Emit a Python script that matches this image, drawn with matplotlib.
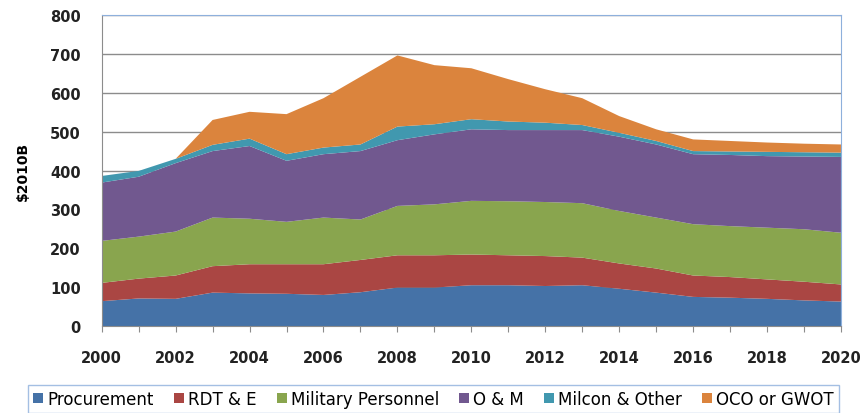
import numpy as np
import matplotlib
matplotlib.use("Agg")
import matplotlib.pyplot as plt

plt.rcParams['font.family'] = ['DejaVu Sans']

#------------------------------------ Data -------------------------------------
years = list(range(2000, 2021))
procurement = [64, 71, 70, 86, 84, 83, 80, 87, 99, 99, 105, 105, 103, 105, 96, 86, 75, 73, 70, 66, 63]
rdte = [47, 51, 60, 68, 75, 76, 79, 83, 83, 83, 79, 77, 77, 71, 65, 62, 55, 53, 50, 48, 44]
mil_personnel = [108, 108, 113, 125, 117, 109, 120, 104, 127, 131, 138, 139, 139, 140, 135, 131, 132, 131, 133, 135, 133]
o_and_m = [150, 154, 176, 171, 187, 157, 163, 176, 169, 180, 184, 183, 185, 188, 191, 188, 180, 183, 184, 187, 195]
milcon_other = [17, 15, 11, 16, 19, 17, 17, 17, 35, 26, 26, 22, 19, 13, 10, 9, 8, 9, 11, 11, 11]
oco_gwot = [0, 0, 0, 64, 69, 103, 127, 174, 183, 152, 131, 109, 86, 69, 43, 30, 30, 27, 24, 22, 21]

labels = ['Procurement', 'RDT & E', 'Military Personnel', 'O & M', 'Milcon & Other', 'OCO or GWOT']
colors = ['#4572A7', '#AA4643', '#89A54E', '#71588F', '#4198AF', '#DB843D']

#------------------------------------ Plot -------------------------------------
fig = plt.figure(figsize=(8.62, 4.14), dpi=100)
ax = fig.add_axes((0.118, 0.21, 0.8576, 0.7514))

ax.stackplot(years, procurement, rdte, mil_personnel, o_and_m, milcon_other, oco_gwot,
             colors=colors, labels=labels, linewidth=0)

ax.set_xlim(2000, 2020)
ax.set_ylim(0, 800)
ax.set_yticks(range(0, 801, 100))
ax.set_xticks(years)
ax.set_xticklabels([str(y) if y % 2 == 0 else '' for y in years])

ax.set_axisbelow(True)
ax.yaxis.grid(True, color='#8c8c8c', linewidth=1)

for s in ['left', 'bottom']:
    ax.spines[s].set_color('#8c8c8c')
for s in ['top', 'right']:
    ax.spines[s].set_color('#8EB0DC')

ax.tick_params(axis='x', direction='out', length=4.5, color='#8c8c8c', pad=13,
               labelsize=10.5)
ax.tick_params(axis='y', length=0, pad=15, labelsize=10.5)
for lbl in ax.get_xticklabels() + ax.get_yticklabels():
    lbl.set_fontweight('bold')
    lbl.set_color('#222222')

ax.set_ylabel('$2010B', fontsize=10, fontweight='bold')
ax.yaxis.set_label_coords(-0.097, 0.5)

leg = fig.legend(loc='lower center', bbox_to_anchor=(0.503, 0.0), ncol=6,
                 fontsize=12, frameon=True, fancybox=False,
                 handlelength=0.6, handleheight=0.6, handletextpad=0.25,
                 columnspacing=1.2, borderpad=0.3, borderaxespad=0)
leg.get_frame().set_edgecolor('#8EB0DC')
leg.get_frame().set_linewidth(1)

fig.savefig('out.png', dpi=100)
